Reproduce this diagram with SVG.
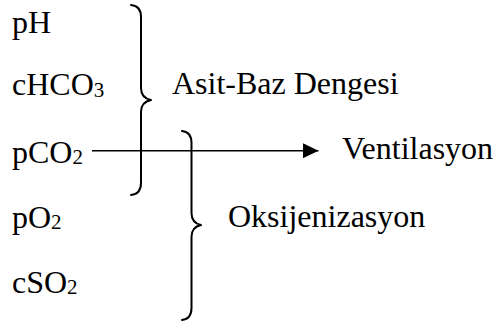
<svg xmlns="http://www.w3.org/2000/svg" width="498" height="325" viewBox="0 0 498 325">
  <style>
    text { font-family: 'Liberation Serif', 'Times New Roman', serif; font-size: 32px; fill: #000; }
    .sub { font-size: 21px; }
    .brace { fill: none; stroke: #000; stroke-width: 2; stroke-linecap: round; stroke-linejoin: round; }
    .link { stroke: #000; stroke-width: 1.6; fill: none; }
  </style>
  <defs>
    <marker id="arrowhead" markerWidth="16" markerHeight="15" refX="15.5" refY="7.5" orient="auto" markerUnits="userSpaceOnUse">
      <path d="M0,0 L15.5,7.5 L0,15 Z" fill="#000"/>
    </marker>
  </defs>
  <rect width="498" height="325" fill="#fff"/>

  <!-- blood gas parameters -->
  <g id="param-ph"><text x="12" y="33">pH</text></g>
  <g id="param-chco3"><text x="12" y="95">cHCO<tspan class="sub" dy="2">3</tspan></text></g>
  <g id="param-pco2"><text x="12" y="163">pCO<tspan class="sub" dy="1">2</tspan></text></g>
  <g id="param-po2"><text x="12" y="228">pO<tspan class="sub" dy="1">2</tspan></text></g>
  <g id="param-cso2"><text x="12" y="293">cSO<tspan class="sub" dy="1">2</tspan></text></g>

  <!-- groupings -->
  <g id="group-acid-base">
    <path class="brace" d="M131,5 Q141,6 141,17 L141,88 Q141,98 151,100 Q141,102 141,112 L141,183 Q141,194 131,195"/>
    <text x="172" y="94">Asit-Baz Dengesi</text>
  </g>
  <g id="group-oxygenation">
    <path class="brace" d="M182,131 Q191.5,132 191.5,143 L191.5,213 Q191.5,223 201,225 Q191.5,227 191.5,237 L191.5,308 Q191.5,319 182,320"/>
    <text x="228" y="227">Oksijenizasyon</text>
  </g>
  <g id="ventilation"><text x="342" y="159">Ventilasyon</text></g>

  <!-- connectors -->
  <g id="connectors">
    <line class="link" x1="92" y1="150.7" x2="318.5" y2="150.7" marker-end="url(#arrowhead)"/>
  </g>
</svg>
